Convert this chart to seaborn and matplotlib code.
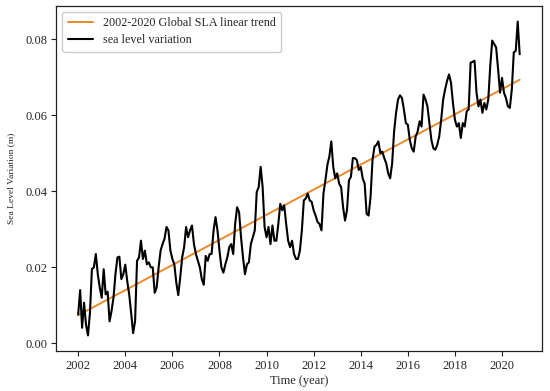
import numpy as np
import pandas as pd
import matplotlib
matplotlib.use('Agg')
import matplotlib.pyplot as plt
import seaborn as sns

# monthly global sea level anomaly (m), Jan 2002 - Oct 2020
sla_2002 = [0.0076, 0.0140, 0.0041, 0.0107, 0.0049, 0.0021, 0.0080, 0.0195, 0.0200, 0.0235, 0.0182, 0.0147]
sla_2003 = [0.0120, 0.0195, 0.0129, 0.0136, 0.0058, 0.0085, 0.0120, 0.0182, 0.0226, 0.0228, 0.0169, 0.0182]
sla_2004 = [0.0207, 0.0164, 0.0129, 0.0080, 0.0027, 0.0058, 0.0217, 0.0226, 0.0270, 0.0222, 0.0244, 0.0208]
sla_2005 = [0.0213, 0.0200, 0.0200, 0.0133, 0.0147, 0.0200, 0.0244, 0.0261, 0.0275, 0.0306, 0.0297, 0.0244]
sla_2006 = [0.0222, 0.0208, 0.0160, 0.0127, 0.0173, 0.0226, 0.0253, 0.0306, 0.0279, 0.0297, 0.0310, 0.0261]
sla_2007 = [0.0235, 0.0217, 0.0200, 0.0169, 0.0154, 0.0230, 0.0217, 0.0235, 0.0235, 0.0297, 0.0332, 0.0297]
sla_2008 = [0.0244, 0.0200, 0.0186, 0.0208, 0.0226, 0.0253, 0.0261, 0.0235, 0.0314, 0.0358, 0.0345, 0.0279]
sla_2009 = [0.0226, 0.0182, 0.0208, 0.0213, 0.0261, 0.0279, 0.0297, 0.0398, 0.0411, 0.0464, 0.0411, 0.0306]
sla_2010 = [0.0279, 0.0306, 0.0261, 0.0310, 0.0270, 0.0270, 0.0314, 0.0367, 0.0350, 0.0363, 0.0314, 0.0270]
sla_2011 = [0.0253, 0.0270, 0.0235, 0.0222, 0.0222, 0.0244, 0.0297, 0.0376, 0.0381, 0.0394, 0.0376, 0.0372]
sla_2012 = [0.0350, 0.0336, 0.0319, 0.0314, 0.0297, 0.0394, 0.0429, 0.0469, 0.0491, 0.0531, 0.0464, 0.0434]
sla_2013 = [0.0447, 0.0420, 0.0411, 0.0358, 0.0323, 0.0350, 0.0429, 0.0438, 0.0487, 0.0487, 0.0482, 0.0456]
sla_2014 = [0.0464, 0.0434, 0.0420, 0.0341, 0.0336, 0.0385, 0.0482, 0.0517, 0.0522, 0.0531, 0.0500, 0.0504]
sla_2015 = [0.0487, 0.0473, 0.0447, 0.0434, 0.0473, 0.0557, 0.0606, 0.0641, 0.0652, 0.0645, 0.0615, 0.0579]
sla_2016 = [0.0575, 0.0535, 0.0513, 0.0504, 0.0544, 0.0557, 0.0584, 0.0570, 0.0654, 0.0641, 0.0623, 0.0579]
sla_2017 = [0.0535, 0.0513, 0.0509, 0.0522, 0.0544, 0.0588, 0.0641, 0.0668, 0.0690, 0.0707, 0.0685, 0.0632]
sla_2018 = [0.0588, 0.0570, 0.0579, 0.0540, 0.0579, 0.0570, 0.0610, 0.0615, 0.0738, 0.0740, 0.0743, 0.0659]
sla_2019 = [0.0623, 0.0641, 0.0606, 0.0632, 0.0615, 0.0641, 0.0729, 0.0796, 0.0787, 0.0778, 0.0721, 0.0659]
sla_2020 = [0.0698, 0.0659, 0.0645, 0.0623, 0.0619, 0.0668, 0.0765, 0.0769, 0.0846, 0.0760]

# linear trend end points (m)
trend_years = [2002.0, 2020.75]
trend_values = [0.0074, 0.0693]

sla = (sla_2002 + sla_2003 + sla_2004 + sla_2005 + sla_2006 + sla_2007 + sla_2008
       + sla_2009 + sla_2010 + sla_2011 + sla_2012 + sla_2013 + sla_2014 + sla_2015
       + sla_2016 + sla_2017 + sla_2018 + sla_2019 + sla_2020)
years = 2002 + np.arange(len(sla)) / 12.0

df = pd.DataFrame({'year': years, 'sla': sla})
df_trend = pd.DataFrame({'year': trend_years, 'sla': trend_values})

sns.set_theme(style='ticks')
plt.rcParams['font.family'] = ['Liberation Serif', 'DejaVu Serif']

fig, ax = plt.subplots(figsize=(5.5, 3.91), dpi=100)
fig.subplots_adjust(left=0.102, right=0.985, bottom=0.102, top=0.985)

sns.lineplot(data=df_trend, x='year', y='sla', ax=ax, color='#e88a2a', linewidth=1.4,
             label='2002-2020 Global SLA linear trend')
sns.lineplot(data=df, x='year', y='sla', ax=ax, color='black', linewidth=1.5,
             label='sea level variation')

ax.set_xticks(np.arange(2002, 2021, 2))
ax.set_yticks([0.00, 0.02, 0.04, 0.06, 0.08])
ax.set_yticklabels(['0.00', '0.02', '0.04', '0.06', '0.08'])
ax.tick_params(labelsize=9, length=3.5, width=0.8, color='#222222', pad=3)
for s in ax.spines.values():
    s.set_linewidth(0.9)
    s.set_color('#222222')

ax.set_xlabel('Time (year)', fontsize=9, labelpad=2)
ax.set_ylabel('Sea Level Variation (m)', fontsize=6.8, labelpad=7)

ax.legend(loc='upper left', fontsize=8.7, handlelength=2.1, borderpad=0.45,
          labelspacing=0.4, framealpha=1, edgecolor='#cccccc')

fig.savefig('out.png', dpi=100)
